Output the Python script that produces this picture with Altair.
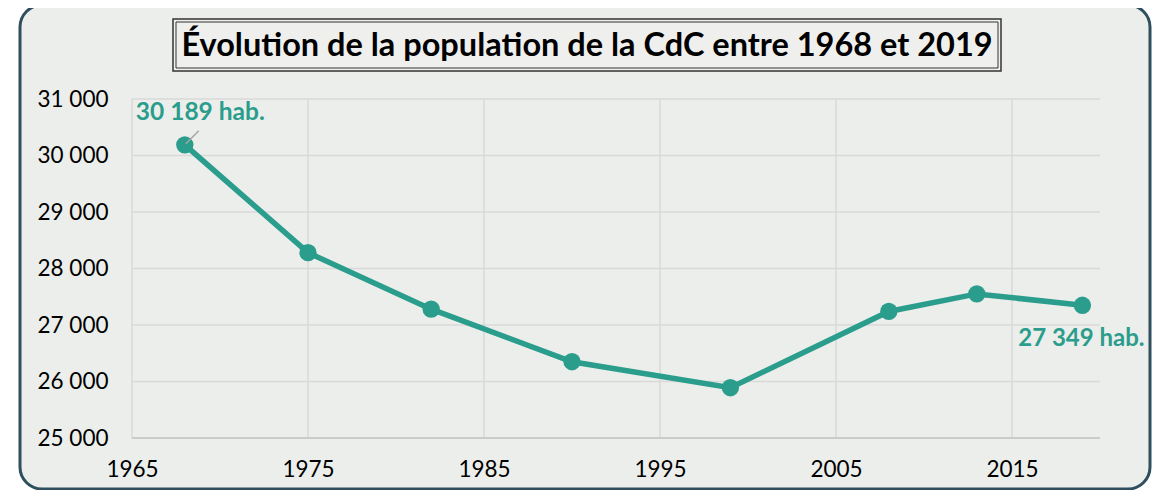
import altair as alt
import pandas as pd

# ---- data ----
years = [1968, 1975, 1982, 1990, 1999, 2008, 2013, 2019]
population = [30189, 28280, 27280, 26350, 25890, 27240, 27550, 27349]
x_ticks = [1965, 1975, 1985, 1995, 2005, 2015]
y_ticks = [25000, 26000, 27000, 28000, 29000, 30000, 31000]
title_text = "Évolution de la population de la CdC entre 1968 et 2019"
first_label = "30 189 hab."
last_label = "27 349 hab."

TEAL = "#2a9d8c"
W, H = 968, 339
FONT = "Lato"

df = pd.DataFrame({"year": years, "pop": population})
xs = alt.Scale(domain=[1965, 2020], nice=False, zero=False)
ys = alt.Scale(domain=[25000, 31000], nice=False, zero=False)

one = pd.DataFrame({"k": [0]})

frame = alt.Chart(one).mark_rect(
    fill="#eceeeb", stroke="#2f4f5f", strokeWidth=3, cornerRadius=22
).encode(x=alt.value(-112), x2=alt.value(1018), y=alt.value(-94), y2=alt.value(390))

title_outer = alt.Chart(one).mark_rect(
    fill="#eff0ee", stroke="#333333", strokeWidth=1.5
).encode(x=alt.value(41), x2=alt.value(869), y=alt.value(-80), y2=alt.value(-28))
title_inner = alt.Chart(one).mark_rect(
    fill="#eff0ee", stroke="#333333", strokeWidth=1
).encode(x=alt.value(44), x2=alt.value(866), y=alt.value(-77), y2=alt.value(-31))
title_mark = alt.Chart(pd.DataFrame({"t": [title_text]})).mark_text(
    font=FONT, fontSize=32.5, fontWeight="bold", color="#000000",
    align="center", baseline="middle"
).encode(x=alt.value(455), y=alt.value(-53), text="t:N")

hgrid = alt.Chart(pd.DataFrame({"v": y_ticks[1:]})).mark_rule(
    color="#d9d9d9", strokeWidth=1.5
).encode(y=alt.Y("v:Q", scale=ys), x=alt.value(0), x2=alt.value(W))
baseline = alt.Chart(pd.DataFrame({"v": y_ticks[:1]})).mark_rule(
    color="#bfbfbf", strokeWidth=1.5
).encode(y=alt.Y("v:Q", scale=ys), x=alt.value(0), x2=alt.value(W))
vgrid = alt.Chart(pd.DataFrame({"v": x_ticks})).mark_rule(
    color="#d9d9d9", strokeWidth=1.5
).encode(x=alt.X("v:Q", scale=xs), y=alt.value(0), y2=alt.value(H))

base = alt.Chart(df)
line = base.mark_line(color=TEAL, strokeWidth=5.5).encode(
    x=alt.X("year:Q", scale=xs,
            axis=alt.Axis(values=x_ticks, format="d", grid=False, domain=False,
                          ticks=False, labelFontSize=22.5, labelFont=FONT,
                          labelColor="#000000", labelPadding=20, title=None,
                          zindex=1, labelFlush=False)),
    y=alt.Y("pop:Q", scale=ys,
            axis=alt.Axis(values=y_ticks, grid=False, domain=False, ticks=False,
                          labelExpr="replace(format(datum.value, ','), /,/g, ' ')",
                          labelFontSize=22.5, labelFont=FONT, labelColor="#000000",
                          labelPadding=24, title=None, zindex=1)),
)
points = base.mark_circle(color=TEAL, size=300, opacity=1).encode(
    x=alt.X("year:Q", scale=xs), y=alt.Y("pop:Q", scale=ys)
)

first_df = pd.DataFrame({"year": years[:1], "pop": population[:1], "t": [first_label]})
last_df = pd.DataFrame({"year": years[-1:], "pop": population[-1:], "t": [last_label]})

leader = alt.Chart(first_df).mark_rule(
    color="#a6a6a6", strokeWidth=1.5, xOffset=1, yOffset=-1, x2Offset=14, y2Offset=-14
).encode(x=alt.X("year:Q", scale=xs), x2="year:Q",
         y=alt.Y("pop:Q", scale=ys), y2="pop:Q")

lab1 = alt.Chart(first_df).mark_text(
    font=FONT, fontSize=24.5, fontWeight="bold", color=TEAL,
    align="left", baseline="middle", dx=-49, dy=-32
).encode(x=alt.X("year:Q", scale=xs), y=alt.Y("pop:Q", scale=ys), text="t:N")
lab2 = alt.Chart(last_df).mark_text(
    font=FONT, fontSize=24, fontWeight="bold", color=TEAL,
    align="center", baseline="middle", dx=-1, dy=34
).encode(x=alt.X("year:Q", scale=xs), y=alt.Y("pop:Q", scale=ys), text="t:N")

chart = alt.layer(
    frame, title_outer, title_inner, title_mark, hgrid, vgrid, baseline,
    line, points, leader, lab1, lab2
).properties(
    width=W, height=H,
    autosize=alt.AutoSizeParams(type="none"),
    padding={"left": 124, "top": 91, "right": 52, "bottom": 52},
    background="#ffffff",
).configure_view(stroke=None)

chart.save("out.html", embed_options={"renderer": "svg", "actions": False})
